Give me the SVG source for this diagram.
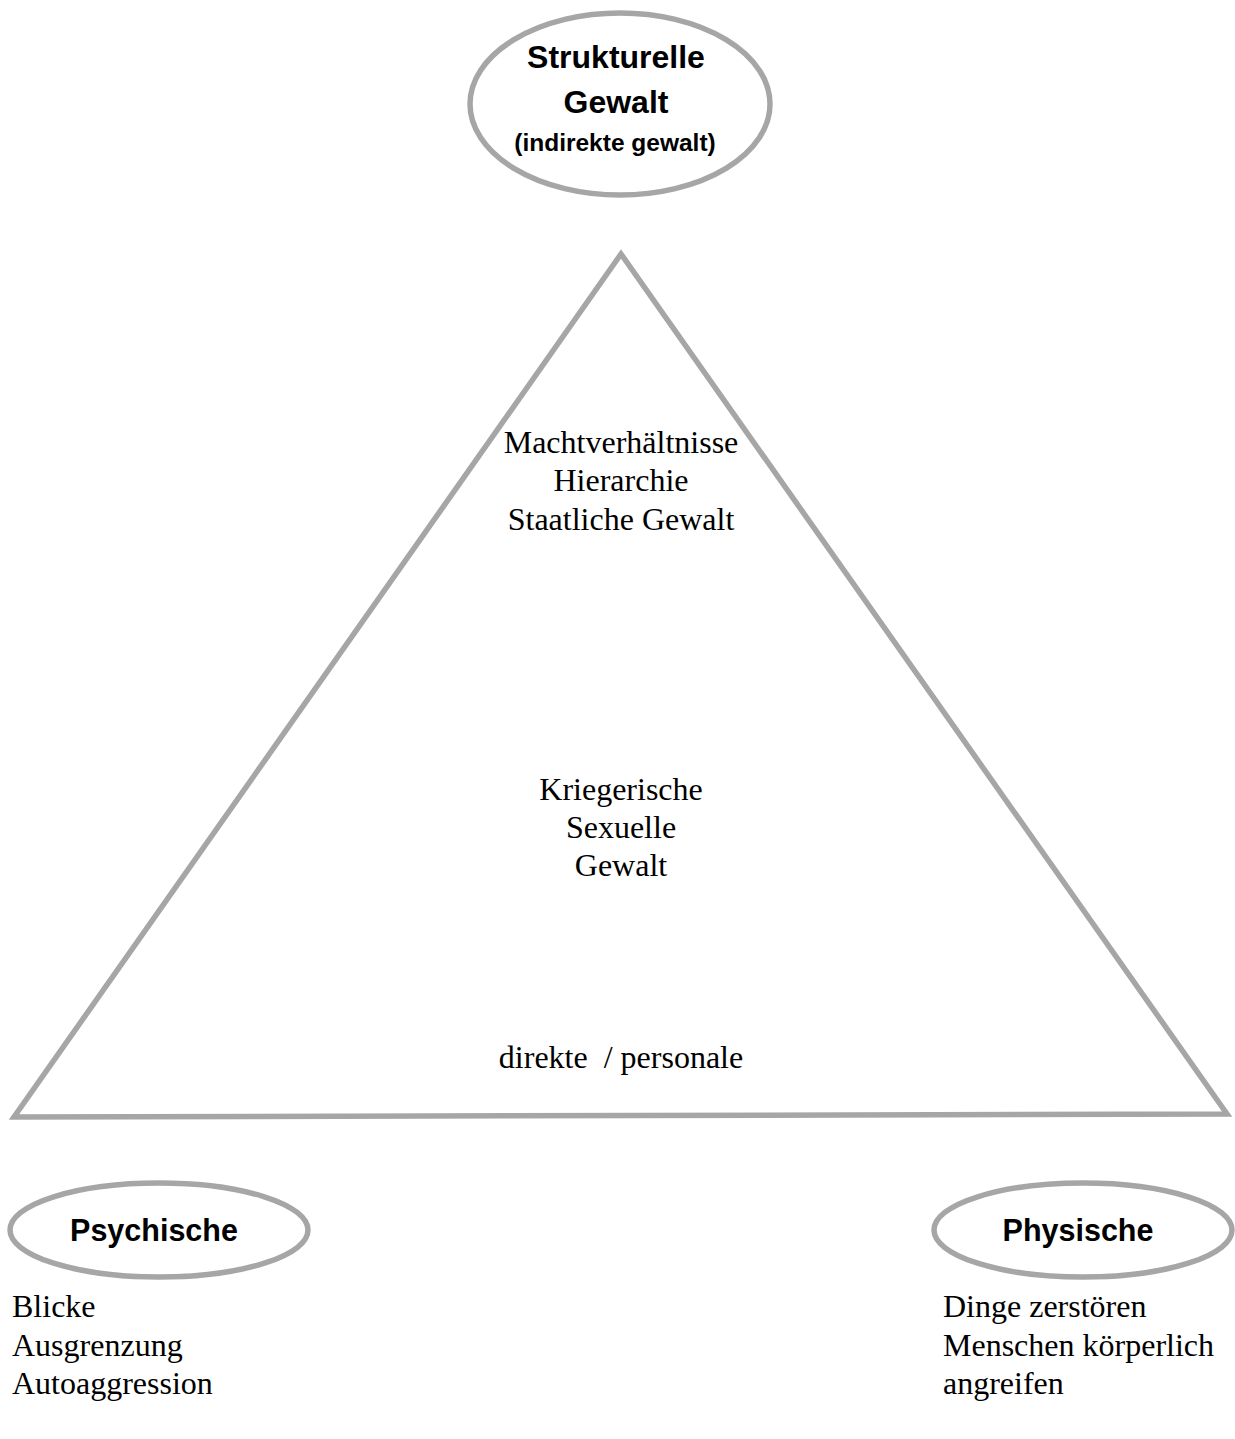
<svg xmlns="http://www.w3.org/2000/svg" width="1235" height="1439" viewBox="0 0 1235 1439">
<style>
.shape{fill:none;stroke:#a6a6a6;stroke-width:5.5}
.head{font-family:"Liberation Sans",Arial,sans-serif;font-weight:bold;fill:#000;text-anchor:middle}
.body{font-family:"Liberation Serif","Times New Roman",serif;font-size:32px;fill:#000}
.mid{text-anchor:middle}
</style>
<rect width="1235" height="1439" fill="#fff"/>
<g id="triangle">
<polygon class="shape" points="621,254 14,1117 1227,1114" stroke-linejoin="miter"/>
<text class="body mid" x="621" y="453">Machtverhältnisse</text>
<text class="body mid" x="621" y="491">Hierarchie</text>
<text class="body mid" x="621" y="530">Staatliche Gewalt</text>
<text class="body mid" x="621" y="800">Kriegerische</text>
<text class="body mid" x="621" y="838">Sexuelle</text>
<text class="body mid" x="621" y="876">Gewalt</text>
<text class="body mid" x="621" y="1068" xml:space="preserve">direkte  / personale</text>
</g>
<g id="strukturelle">
<ellipse class="shape" cx="620" cy="104" rx="150" ry="91"/>
<text class="head" x="616" y="68" font-size="32">Strukturelle</text>
<text class="head" x="616" y="113" font-size="32">Gewalt</text>
<text class="head" x="615" y="151" font-size="24.5">(indirekte gewalt)</text>
</g>
<g id="psychische">
<ellipse class="shape" cx="159" cy="1230" rx="149" ry="47"/>
<text class="head" x="154" y="1241" font-size="30.5">Psychische</text>
</g>
<g id="physische">
<ellipse class="shape" cx="1083" cy="1230" rx="149" ry="47"/>
<text class="head" x="1078" y="1241" font-size="30.5">Physische</text>
</g>
<g id="psychische-list">
<text class="body" x="12" y="1317">Blicke</text>
<text class="body" x="12" y="1356">Ausgrenzung</text>
<text class="body" x="12" y="1394">Autoaggression</text>
</g>
<g id="physische-list">
<text class="body" x="943" y="1317">Dinge zerstören</text>
<text class="body" x="943" y="1356">Menschen körperlich</text>
<text class="body" x="943" y="1394">angreifen</text>
</g>
<g id="connectors"></g>
</svg>
